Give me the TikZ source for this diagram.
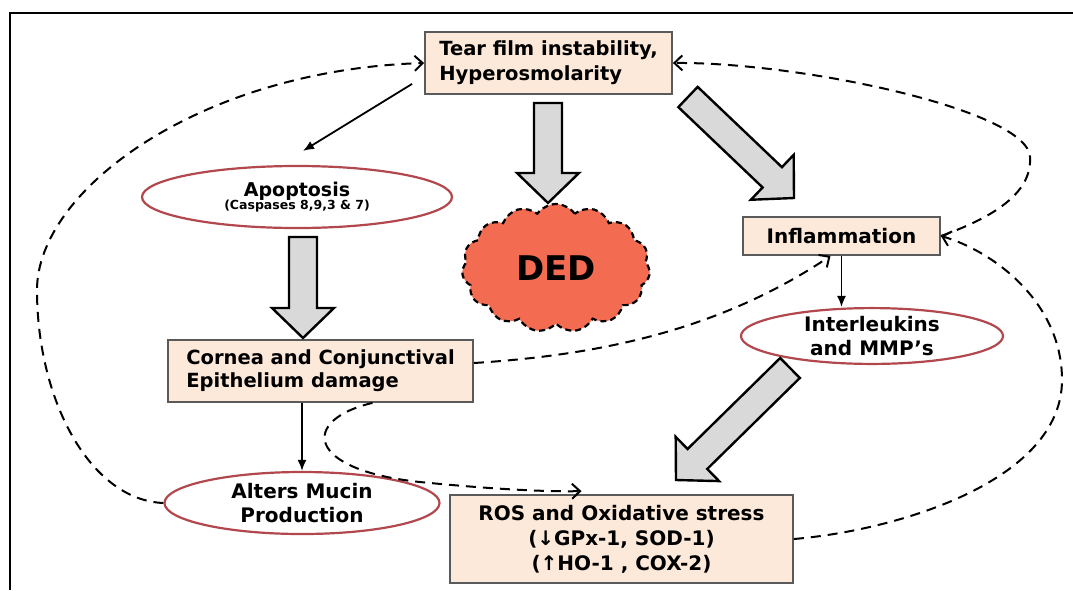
\documentclass[tikz,border=0pt]{standalone}
\usepackage{fontspec}
\setmainfont{DejaVu Sans}
\usetikzlibrary{arrows.meta,calc,shapes.geometric,shapes.symbols}
\definecolor{boxfill}{RGB}{252,233,218}
\definecolor{boxline}{RGB}{90,90,90}
\definecolor{ellline}{RGB}{178,72,78}
\definecolor{cloudfill}{RGB}{243,107,80}
\definecolor{arrfill}{RGB}{217,217,217}
\newcommand\fatarr[2]{%
  \coordinate (fh) at ($(#2)!30pt!(#1)$);
  \draw[fat] ($(#1)!14pt!90:(#2)$) -- ($(fh)!14pt!-90:(#1)$) -- ($(fh)!31pt!-90:(#1)$) -- (#2) -- ($(fh)!31pt!90:(#1)$) -- ($(fh)!14pt!90:(#1)$) -- ($(#1)!14pt!-90:(#2)$) -- cycle;}
\begin{document}
\begin{tikzpicture}[x=1pt,y=-1pt,
  box/.style={draw=boxline, line width=1.8pt, fill=boxfill, inner sep=0pt},
  ell/.style={ellipse, draw=ellline, line width=2.2pt, inner sep=0pt, align=center},
  thinarr/.style={-{Latex[length=11pt,width=9pt]}, line width=1.8pt},
  dsh/.style={dash pattern=on 10pt off 7pt, line width=2pt, -{Straight Barb[length=8pt,width=15pt]}},
  fat/.style={draw=black, line width=2.4pt, fill=arrfill, line join=miter},
  lbl/.style={font=\fontsize{20}{24}\selectfont\bfseries}]
\fill[white] (0,0) rectangle (1073,590);
\useasboundingbox (0,0) rectangle (1073,590);
\draw[line width=2.5pt] (10,590) -- (10,13) -- (1073,13);

% nodes
\node[box, minimum width=247pt, minimum height=62pt, align=left, font=\fontsize{19.5}{25}\selectfont\bfseries] (tear) at (548.5,63) {Tear film instability,\\Hyperosmolarity};
\node[ell, minimum width=310pt, minimum height=62pt] (apo) at (297,197)
  {{\fontsize{19}{20}\selectfont\bfseries Apoptosis}\\[-2pt]{\fontsize{12.5}{14}\selectfont\bfseries (Caspases 8,9,3 \& 7)}};
\node[cloud, cloud puffs=15, cloud puff arc=110, aspect=1.6, minimum width=188pt, minimum height=128pt,
  draw, line width=2.2pt, dash pattern=on 6pt off 4pt, fill=cloudfill, inner sep=0pt,
  font=\fontsize{34}{36}\selectfont\bfseries] (ded) at (556,268) {DED};
\node[box, lbl, minimum width=197pt, minimum height=38pt] (infl) at (841.5,236) {Inflammation};
\node[box, minimum width=305pt, minimum height=62pt, align=left, font=\fontsize{19.5}{23}\selectfont\bfseries] (cornea) at (320.5,371) {Cornea and Conjunctival\\Epithelium damage};
\node[ell, lbl, minimum width=262pt, minimum height=54pt] (il) at (872,336) {Interleukins\\and MMP’s};
\node[ell, lbl, minimum width=275pt, minimum height=62pt] (alters) at (302,503) {Alters Mucin\\Production};
\node[box, lbl, minimum width=343pt, minimum height=88pt, align=center, font=\fontsize{20}{25}\selectfont\bfseries] (ros) at (621.5,539) {ROS and Oxidative stress\\(↓GPx-1, SOD-1)\\(↑HO-1 , COX-2)};

% big gray arrows
\coordinate (a1s) at (548,103); \coordinate (a1t) at (548,203);
\coordinate (a2s) at (303,237); \coordinate (a2t) at (303,338);
\coordinate (a3s) at (688,97);  \coordinate (a3t) at (794,198);
\coordinate (a4s) at (790,368); \coordinate (a4t) at (676,480);
\fatarr{a1s}{a1t}
\fatarr{a2s}{a2t}
\fatarr{a3s}{a3t}
\fatarr{a4s}{a4t}

% thin arrows
\draw[thinarr] ([xshift=-12pt,yshift=11pt]tear.south west) -- ([xshift=6pt,yshift=14pt]apo.north);
\draw[thinarr] (cornea.south -| alters.north) -- (alters.north);
\draw[thinarr] (infl.south) -- (infl.south |- il.north);

% dashed feedback arrows
\draw[dsh] (alters.west) .. controls (90,500) and (37,400) .. (37,290) .. controls (37,190) and (200,70) .. (tear.west);
\draw[dsh] (infl.east) .. controls (1000,215) and (1032,190) .. (1030,157) .. controls (1028,110) and (800,62) .. (tear.east);
\draw[dsh] (ros.east) .. controls (900,530) and (1062,480) .. (1062,380) .. controls (1062,300) and (990,250) .. (infl.east);
\draw[dsh] ([yshift=8pt]cornea.east) .. controls (600,355) and (720,330) .. ([xshift=-11pt]infl.south);
\draw[dsh] ([xshift=52pt]cornea.south) .. controls (300,420) and (305,470) .. (420,482) .. controls (480,488) and (540,492) .. ([xshift=-40pt,yshift=3pt]ros.north);
\end{tikzpicture}
\end{document}
